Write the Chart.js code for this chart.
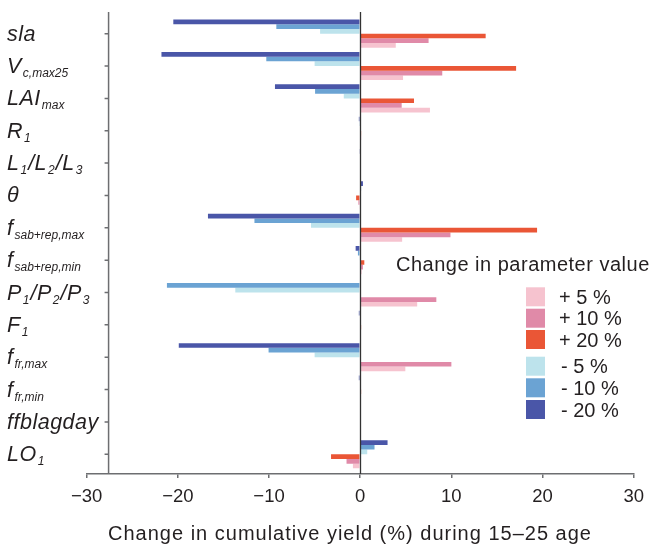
<!DOCTYPE html>
<html>
<head>
<meta charset="utf-8">
<script src="https://cdn.jsdelivr.net/npm/chart.js@4.4.1/dist/chart.umd.min.js"></script>
<style>
body { margin: 0; background: #fff; }
</style>
</head>
<body>
<canvas id="yield-chart" width="652" height="548"></canvas>
<script>
// parameter names, _{..} marks a subscript
const categories = ['sla', 'V_{c,max25}', 'LAI_{max}', 'R_{1}', 'L_{1}/L_{2}/L_{3}', 'θ',
    'f_{sab+rep,max}', 'f_{sab+rep,min}', 'P_{1}/P_{2}/P_{3}', 'F_{1}', 'f_{fr,max}',
    'f_{fr,min}', 'ffblagday', 'LO_{1}'];

// change in cumulative yield (%) per parameter change
const minus20 = [-20.5, -21.8, -9.35, -0.15, -0.1, 0.3, -16.7, -0.5, 0, -0.15, -19.9, -0.15, 0, 3.0];
const minus10 = [-9.2, -10.3, -4.95, -0.1, 0, 0.1, -11.6, -0.25, -21.2, 0, -10.05, 0, 0, 1.57];
const minus5 = [-4.4, -5.0, -1.8, 0, 0, 0, -5.4, -0.1, -13.7, 0, -5.0, 0, 0, 0.77];
const plus20 = [13.76, 17.1, 5.9, 0.1, 0, -0.45, 19.4, 0.45, 0, 0.1, 0, 0.1, 0, -3.2];
const plus10 = [7.5, 9.0, 4.55, 0.1, 0, -0.2, 9.9, 0.3, 8.35, 0, 10.0, 0, 0, -1.5];
const plus5 = [3.9, 4.7, 7.65, 0, 0, -0.1, 4.6, 0.15, 6.25, 0, 4.95, 0, 0, -0.8];

const legendLabels = ['+ 5 %', '+ 10 %', '+ 20 %', '- 5 %', '- 10 %', '- 20 %'];
const xTicks = [-30, -20, -10, 0, 10, 20, 30];
const xTitle = 'Change in cumulative yield (%) during 15\u201325 age';
const legendTitle = 'Change in parameter value';

const colors = {
    m20: '#4a56a8', m10: '#6ba3d3', m5: '#bde3ec',
    p20: '#ea5636', p10: '#e08aa8', p5: '#f6c3cf'
};
const axisColor = '#6d6e71';
const textColor = '#231f20';
const yAxisAt = -27.6;   // where the left axis line crosses the x scale

function points(arr)
{
    return arr.map(function(v, i) { return {x: v, y: i}; });
}

function draw_label(ctx, label, x, y)
{
    var parts = label.split(/(_\{[^}]*\})/);
    parts.forEach(function(p) {
	if (!p)
	    return;
	if (p[0] == '_') {
	    var t = p.slice(2, -1);
	    ctx.font = 'italic 12px "Liberation Sans"';
	    ctx.letterSpacing = '0px';
	    ctx.fillText(t, x + 1, y + 4);
	    x += ctx.measureText(t).width + 2;
	} else {
	    ctx.font = 'italic 21.5px "Liberation Sans"';
	    ctx.letterSpacing = '0.5px';
	    ctx.fillText(p, x, y);
	    x += ctx.measureText(p).width;
	}
    });
    ctx.letterSpacing = '0px';
}

const decorPlugin = {
    id: 'decor',
    afterDatasetsDraw: function(chart) {
	const ctx = chart.ctx;
	const xs = chart.scales.x;
	const area = chart.chartArea;
	const x0 = Math.round(xs.getPixelForValue(0)) + 0.5;
	ctx.save();
	ctx.strokeStyle = '#333333';
	ctx.lineWidth = 1.3;
	ctx.beginPath();
	ctx.moveTo(x0, area.top);
	ctx.lineTo(x0, area.bottom);
	ctx.stroke();
	ctx.restore();
    },
    afterDraw: function(chart) {
	const ctx = chart.ctx;
	const xs = chart.scales.x;
	const ys = chart.scales.y;
	const area = chart.chartArea;
	const ax = xs.getPixelForValue(yAxisAt);

	ctx.save();
	// left axis with its ticks
	ctx.strokeStyle = axisColor;
	ctx.lineWidth = 1.5;
	ctx.beginPath();
	ctx.moveTo(ax, area.top);
	ctx.lineTo(ax, area.bottom);
	categories.forEach(function(c, i) {
	    var py = ys.getPixelForValue(i);
	    ctx.moveTo(ax - 4, py);
	    ctx.lineTo(ax, py);
	});
	ctx.stroke();

	// category labels
	ctx.fillStyle = textColor;
	ctx.textAlign = 'left';
	ctx.textBaseline = 'alphabetic';
	categories.forEach(function(c, i) {
	    draw_label(ctx, c, 7, ys.getPixelForValue(i) + 7);
	});

	// x axis title
	ctx.font = '20px "Liberation Sans"';
	ctx.letterSpacing = '1px';
	ctx.textAlign = 'center';
	ctx.fillText(xTitle, 350, 540);

	// legend
	ctx.textAlign = 'left';
	ctx.letterSpacing = '0.5px';
	ctx.font = '20px "Liberation Sans"';
	ctx.fillText(legendTitle, 396, 271);
	ctx.letterSpacing = '0px';
	const order = [5, 4, 3, 2, 1, 0];
	const rows = [287.3, 308.7, 330, 356.7, 378.3, 400];
	order.forEach(function(di, k) {
	    var ds = chart.data.datasets[di];
	    ctx.fillStyle = ds.backgroundColor;
	    ctx.fillRect(526, rows[k], 19, 19);
	    ctx.fillStyle = textColor;
	    ctx.font = '20px "Liberation Sans"';
	    ctx.fillText(legendLabels[k], k < 3 ? 559 : 561, rows[k] + 16.5);
	});
	ctx.restore();
    }
};

const ctx = document.getElementById('yield-chart');

new Chart(ctx, {
    type: 'bar',
    data: {
	datasets: [
	    {label: '- 20 %', data: points(minus20), backgroundColor: colors.m20},
	    {label: '- 10 %', data: points(minus10), backgroundColor: colors.m10},
	    {label: '- 5 %', data: points(minus5), backgroundColor: colors.m5},
	    {label: '+ 20 %', data: points(plus20), backgroundColor: colors.p20},
	    {label: '+ 10 %', data: points(plus10), backgroundColor: colors.p10},
	    {label: '+ 5 %', data: points(plus5), backgroundColor: colors.p5}
	]
    },
    options: {
	indexAxis: 'y',
	responsive: false,
	animation: false,
	devicePixelRatio: 1,
	layout: {
	    padding: {left: 86.7, right: 16, top: 12, bottom: 0}
	},
	datasets: {
	    bar: {categoryPercentage: 0.87, barPercentage: 1.0, borderWidth: 0}
	},
	plugins: {
	    legend: {display: false},
	    tooltip: {enabled: false}
	},
	scales: {
	    x: {
		type: 'linear',
		min: xTicks[0],
		max: xTicks[xTicks.length - 1],
		afterBuildTicks: function(scale) {
		    scale.ticks = xTicks.map(function(v) { return {value: v}; });
		},
		afterFit: function(scale) {
		    scale.height = 74;
		},
		ticks: {
		    color: textColor,
		    padding: 8,
		    font: {family: '"Liberation Sans"', size: 18.5},
		    callback: function(v) {
			return v < 0 ? '\u2212' + Math.abs(v) : String(v);
		    }
		},
		grid: {
		    drawOnChartArea: false,
		    tickLength: 4,
		    color: axisColor,
		    lineWidth: 1.5
		},
		border: {color: axisColor, width: 1.5}
	    },
	    y: {
		type: 'linear',
		display: false,
		offset: false,
		reverse: true,
		min: -0.67,
		max: 13.61,
		afterBuildTicks: function(scale) {
		    scale.ticks = categories.map(function(c, i) { return {value: i}; });
		}
	    }
	}
    },
    plugins: [decorPlugin]
});
</script>
</body>
</html>
